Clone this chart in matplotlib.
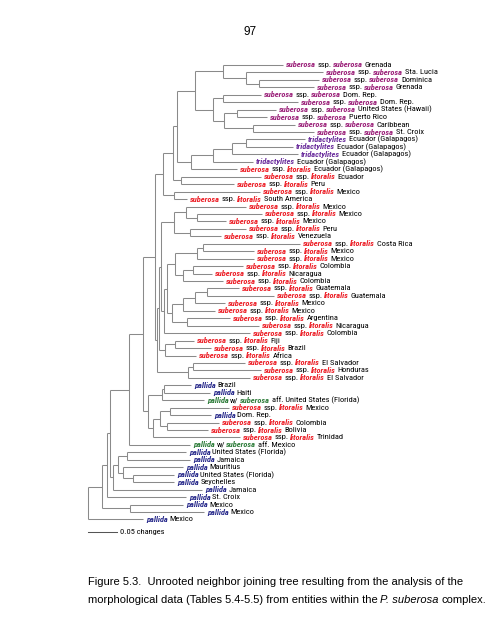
import matplotlib
matplotlib.use("Agg")
import matplotlib.pyplot as plt
from matplotlib import font_manager
from matplotlib.transforms import offset_copy

# leaf groups (top to bottom) and localities
groups = (["sub"] * 10 + ["tri"] * 4 + ["lit"] * 29 +
          ["pal", "pal", "palw", "lit", "pal", "lit", "lit", "lit", "palw"] +
          ["pal"] * 10)
localities = [
    "Grenada", "Sta. Lucia", "Dominica", "Grenada", "Dom. Rep.", "Dom. Rep.",
    "United States (Hawaii)", "Puerto Rico", "Caribbean", "St. Croix",
    "Ecuador (Galapagos)", "Ecuador (Galapagos)", "Ecuador (Galapagos)", "Ecuador (Galapagos)",
    "Ecuador (Galapagos)", "Ecuador", "Peru", "Mexico", "South America",
    "Mexico", "Mexico", "Mexico", "Peru", "Venezuela",
    "Costa Rica", "Mexico", "Mexico", "Colombia", "Nicaragua", "Colombia",
    "Guatemala", "Guatemala", "Mexico", "Mexico", "Argentina", "Nicaragua",
    "Colombia", "Fiji", "Brazil", "Africa", "El Salvador", "Honduras", "El Salvador",
    "Brazil", "Haiti", "United States (Florida)", "Mexico", "Dom. Rep.",
    "Colombia", "Bolivia", "Trinidad", "Mexico",
    "United States (Florida)", "Jamaica", "Mauritius", "United States (Florida)",
    "Seychelles", "Jamaica", "St. Croix", "Mexico", "Mexico", "Mexico",
]

# tree (neighbor joining), branch lengths in changes
clade_A = "(t1:0.1034,(t2:0.1328,(t3:0.1034,t4:0.0948):0.0224):0.0397)"
clade_E = "((t5:0.0655,t6:0.1293):0.0172,((t7:0.0672,t8:0.0517):0.0224,(t9:0.0724,t10:0.1052):0.0500):0.0190)"
clade_D = "(" + clade_A + ":0.0483," + clade_E + ":0.0310)"
clade_tri = "((((t11:0.1017,t12:0.0810):0.0241,t13:0.1138):0.0328,t14:0.0690):0.0379,t15:0.0793)"
clade_K = "(" + clade_D + ":0.0310," + clade_tri + ":0.0241)"
clade_J = "(" + clade_K + ":0.0069,(t16:0.1379,t17:0.0914):0.0138)"
clade_R = "(" + clade_J + ":0.0172,(t18:0.1483,t19:0.0224):0.0190)"
clade_W = "((t20:0.1034,(t21:0.1121,t22:0.0500):0.0190):0.0207,(t23:0.0966,t24:0.0534):0.0276)"
clade_XZ = "(((t25:0.1672,t26:0.0879):0.0103,t27:0.0983):0.0379,((t28:0.0862,t29:0.0328):0.0172,t30:0.0690):0.0138)"
clade_AC = "((((t31:0.0552,t32:0.1155):0.0207,t33:0.0517):0.0207,t34:0.0552):0.0190,(t35:0.0741,t36:0.1241):0.0259)"
clade_lit2 = "((" + clade_XZ + ":0.0138," + clade_AC + ":0.0086):0.0052,t37:0.1483)"
clade_litA = "(" + clade_W + ":0.0224," + clade_lit2 + ":0.0052)"
clade_litB = "(" + clade_litA + ":0.0034,((t38:0.0328,t39:0.0621):0.0172,t40:0.0534):0.0103)"
clade_litC = "(" + clade_litB + ":0.0034,((t41:0.0897,t42:0.1172):0.0086,t43:0.1069):0.0534)"
clade_T = "(" + clade_R + ":0.0138," + clade_litC + ":0.0034)"
clade_pal = ("(((t44:0.0466,t45:0.0793):0.0034,t46:0.0724):0.0241,"
             "(((t47:0.1017,t48:0.0707):0.0172,(t49:0.0897,t50:0.0707):0.0121):0.0121,t51:0.1500):0.0086)")
clade_top = "((" + clade_T + ":0.0207," + clade_pal + ":0.0086):0.0241,t52:0.1052)"
clade_pal2 = "(((t53:0.1017,t54:0.1086):0.0155,(t55:0.1034,(t56:0.0707,t57:0.0707):0.0172):0.0086):0.0086,t58:0.1534)"
newick = ("((((" + clade_top + ":0.0328," + clade_pal2 + ":0.0052):0.0052,t59:0.1362):0.0086,"
          "(t60:0.0914,t61:0.1276):0.0483):0.0241,t62:0.0948);")

colors = {"sub": "#9a1f78", "tri": "#6a2c9c", "lit": "#ec1c24",
          "pal": "#2a2c8c", "palw": "#2f7d3b"}


def parse(s):
    pos = 0

    def node():
        nonlocal pos
        kids = []
        name = ""
        if s[pos] == "(":
            pos += 1
            kids.append(node())
            while s[pos] == ",":
                pos += 1
                kids.append(node())
            pos += 1  # ')'
        while s[pos] not in ":,);":
            name += s[pos]
            pos += 1
        length = 0.0
        if s[pos] == ":":
            pos += 1
            num = ""
            while s[pos] not in ",);":
                num += s[pos]
                pos += 1
            length = float(num)
        return {"name": name, "len": length, "kids": kids}

    return node()


tree = parse(newick)
segments = []
tips = []


def layout(n, x0):
    x = x0 + n["len"]
    if not n["kids"]:
        y = len(tips)
        tips.append((int(n["name"][1:]) - 1, x, y))
    else:
        ys = [layout(k, x) for k in n["kids"]]
        y = (ys[0] + ys[-1]) / 2
        segments.append(((x, x), (ys[0], ys[-1])))
        for k, yk in zip(n["kids"], ys):
            segments.append(((x, x + k["len"]), (yk, yk)))
    return y


layout(tree, 0.0)

# prefer a narrow face for the leaf labels if one is installed
lab_font = "Roboto"
for f in font_manager.fontManager.ttflist:
    if f.name in ("Liberation Sans Narrow", "Roboto Condensed", "Open Sans Condensed"):
        lab_font = f.name
        break

fig = plt.figure(figsize=(4.95, 6.4), dpi=100)
ax = fig.add_axes([0, 0, 1, 1])
ax.set_xlim(-88 / 580, (495 - 88) / 580)
ax.set_ylim(77.18, -8.72)
ax.axis("off")

for xs, ys in segments:
    ax.plot(xs, ys, color="#8a8a8a", lw=0.75, solid_capstyle="butt")

renderer = fig.canvas.get_renderer()

GAP = 1.25  # points between label pieces (a word space)


def rich(x, y, parts, size, trans, family, draw=True):
    dx = 0.0
    made = []
    for txt, col, style in parts:
        t = ax.text(x, y, txt, transform=offset_copy(trans, fig=fig, x=dx, y=0, units="points"),
                    color=col, fontsize=size, family=family, va="center", ha="left",
                    fontweight="bold" if style else "normal",
                    fontstyle="italic" if style else "normal")
        made.append(t)
        dx += t.get_window_extent(renderer).width * 72 / fig.dpi + GAP * size / 6.5
    if not draw:
        for t in made:
            t.remove()
    return dx


def label_parts(g, loc):
    c = colors[g]
    if g == "sub":
        return [("suberosa", c, 1), ("ssp.", "k", 0), ("suberosa", c, 1), (loc, "k", 0)]
    if g == "tri":
        return [("tridactylites", c, 1), (loc, "k", 0)]
    if g == "lit":
        return [("suberosa", c, 1), ("ssp.", "k", 0), ("litoralis", c, 1), (loc, "k", 0)]
    if g == "palw":
        return [("pallida", c, 1), ("w/", "k", 0), ("suberosa", c, 1), ("aff. " + loc, "k", 0)]
    return [("pallida", c, 1), (loc, "k", 0)]


# label size: the first label spans about 107 px on the page
w10 = rich(0, 0, label_parts("sub", "Grenada"), 10, ax.transData, lab_font, draw=False)
lab_size = 10 * (107 * 72 / 100) / w10

for idx, x, y in tips:
    rich(x + 3 / 580, y, label_parts(groups[idx], localities[idx]), lab_size,
         ax.transData, lab_font)

# scale bar 0.05 changes
ax.plot([0, 0.05], [62.7, 62.7], color="#555555", lw=0.75)
ax.text(0.05 + 3 / 580, 62.7, "0.05 changes", fontsize=lab_size, family=lab_font, va="center")

fig.text(250 / 495, 1 - 32 / 640, "97", fontsize=8.5, family="Liberation Sans", ha="center", va="center")
fig.text(88 / 495, 1 - 582 / 640,
         "Figure 5.3.  Unrooted neighbor joining tree resulting from the analysis of the",
         fontsize=8, family="Liberation Sans", va="center")
t = fig.text(88 / 495, 1 - 600 / 640, "morphological data (Tables 5.4-5.5) from entities within the",
             fontsize=8, family="Liberation Sans", va="center")
w = t.get_window_extent(renderer).width
t2 = fig.text((88 + w + 2.5) / 495, 1 - 600 / 640, "P. suberosa", fontsize=8, family="Liberation Sans",
              style="italic", va="center")
w2 = t2.get_window_extent(renderer).width
fig.text((88 + w + w2 + 5) / 495, 1 - 600 / 640, "complex.", fontsize=8, family="Liberation Sans",
         va="center")

fig.savefig("out.png", dpi=100)
